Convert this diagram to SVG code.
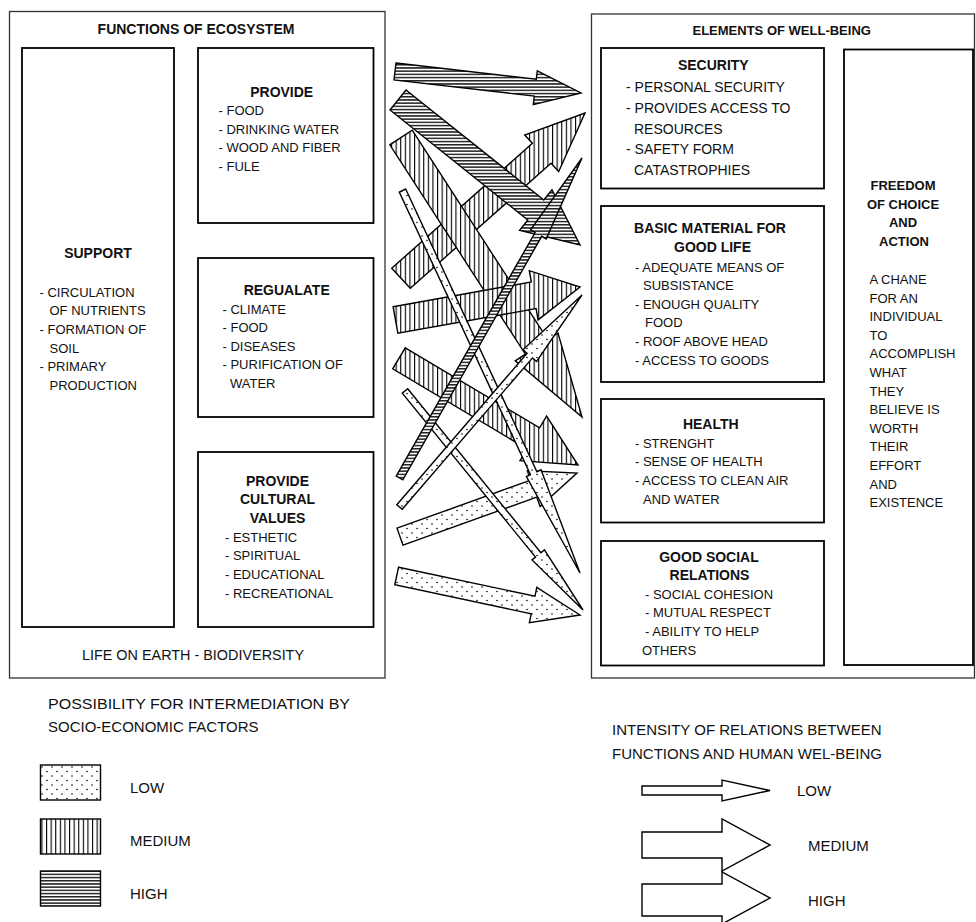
<svg xmlns="http://www.w3.org/2000/svg" width="976" height="922" viewBox="0 0 976 922">
  <defs>
    <!-- fill patterns for the possibility of intermediation -->
    <pattern id="pLow" patternUnits="userSpaceOnUse" width="10" height="9">
      <rect width="10" height="9" fill="#fff"/>
      <circle cx="2" cy="2" r="0.8" fill="#000"/>
      <circle cx="7" cy="6.5" r="0.8" fill="#000"/>
    </pattern>
    <pattern id="pMed" patternUnits="userSpaceOnUse" width="4.6" height="10">
      <rect width="4.6" height="10" fill="#fff"/>
      <rect x="0" y="0" width="1.1" height="10" fill="#000"/>
    </pattern>
    <pattern id="pHigh" patternUnits="userSpaceOnUse" width="10" height="3.2">
      <rect width="10" height="3.2" fill="#fff"/>
      <rect x="0" y="0" width="10" height="1.5" fill="#222"/>
    </pattern>
  </defs>
  <style>
    .box{fill:#fff;stroke:#000;stroke-width:1.8}
    .outer{fill:none;stroke:#333;stroke-width:1.3}
    .arr{stroke:#000;stroke-width:1.4;stroke-linejoin:miter}
    .low{fill:url(#pLow)}
    .med{fill:url(#pMed)}
    .high{fill:url(#pHigh)}
    .plain{fill:#fff}
    text{font-family:"Liberation Sans",Arial,sans-serif;fill:#111}
    .h{font-weight:bold;font-size:14px;text-anchor:middle}
    .h13{font-weight:bold;font-size:13px;text-anchor:middle}
    .t{font-size:13px}
    .t14{font-size:14px}
    .lg{font-size:15px}
  </style>

  <rect width="976" height="922" fill="#fff"/>

  <!-- left panel: functions of the ecosystem -->
  <g id="functions-ecosystem">
    <rect class="outer" x="9.5" y="11.5" width="375.5" height="666.5"/>
    <text class="h" x="196" y="34">FUNCTIONS OF ECOSYSTEM</text>
    <text x="193" y="660" font-size="14.4" text-anchor="middle">LIFE ON EARTH - BIODIVERSITY</text>
  </g>

  <g id="support">
    <rect class="box" x="22" y="48" width="152" height="579"/>
    <text class="h" x="98" y="258">SUPPORT</text>
    <text class="t" x="39.5" y="296.7">- CIRCULATION</text>
    <text class="t" x="49.5" y="315.3">OF NUTRIENTS</text>
    <text class="t" x="39.5" y="333.9">- FORMATION OF</text>
    <text class="t" x="49.5" y="352.5">SOIL</text>
    <text class="t" x="39.5" y="371.1">- PRIMARY</text>
    <text class="t" x="49.5" y="389.7">PRODUCTION</text>
  </g>

  <g id="provide">
    <rect class="box" x="198" y="48" width="175.5" height="175"/>
    <text class="h" x="281.7" y="97">PROVIDE</text>
    <text class="t" x="218.5" y="115">- FOOD</text>
    <text class="t" x="218.5" y="133.7">- DRINKING WATER</text>
    <text class="t" x="218.5" y="152.4">- WOOD AND FIBER</text>
    <text class="t" x="218.5" y="171.1">- FULE</text>
  </g>

  <g id="regulate">
    <rect class="box" x="198" y="258" width="175.5" height="159"/>
    <text class="h" x="286.7" y="295">REGUALATE</text>
    <text class="t" x="222.5" y="313.5">- CLIMATE</text>
    <text class="t" x="222.5" y="332">- FOOD</text>
    <text class="t" x="222.5" y="350.5">- DISEASES</text>
    <text class="t" x="222.5" y="369">- PURIFICATION OF</text>
    <text class="t" x="230" y="387.5">WATER</text>
  </g>

  <g id="cultural-values">
    <rect class="box" x="198" y="452" width="175.5" height="175"/>
    <text class="h" x="277.5" y="485.7">PROVIDE</text>
    <text class="h" x="277.5" y="504.3">CULTURAL</text>
    <text class="h" x="277.5" y="522.9">VALUES</text>
    <text class="t" x="225" y="541.7">- ESTHETIC</text>
    <text class="t" x="225" y="560.3">- SPIRITUAL</text>
    <text class="t" x="225" y="578.9">- EDUCATIONAL</text>
    <text class="t" x="225" y="597.5">- RECREATIONAL</text>
  </g>

  <!-- right panel: elements of well-being -->
  <g id="well-being">
    <rect class="outer" x="591.5" y="14" width="383" height="664"/>
    <text class="h13" x="781.7" y="35">ELEMENTS OF WELL-BEING</text>
  </g>

  <g id="security">
    <rect class="box" x="601" y="48" width="223" height="140.5"/>
    <text class="h" x="713.3" y="70" font-size="15">SECURITY</text>
    <text class="t14" x="626" y="92.3">- PERSONAL SECURITY</text>
    <text class="t14" x="626" y="112.9">- PROVIDES ACCESS TO</text>
    <text class="t14" x="634" y="133.5">RESOURCES</text>
    <text class="t14" x="626" y="154.1">- SAFETY FORM</text>
    <text class="t14" x="634" y="174.7">CATASTROPHIES</text>
  </g>

  <g id="basic-material">
    <rect class="box" x="601" y="206" width="223" height="176"/>
    <text class="h" x="710" y="233.3">BASIC MATERIAL FOR</text>
    <text class="h" x="712.5" y="252">GOOD LIFE</text>
    <text class="t" x="635" y="271.5">- ADEQUATE MEANS OF</text>
    <text class="t" x="643" y="290">SUBSISTANCE</text>
    <text class="t" x="635" y="308.7">- ENOUGH QUALITY</text>
    <text class="t" x="645" y="327.4">FOOD</text>
    <text class="t" x="635" y="346.1">- ROOF ABOVE HEAD</text>
    <text class="t" x="635" y="364.8">- ACCESS TO GOODS</text>
  </g>

  <g id="health">
    <rect class="box" x="601" y="399" width="223" height="123.5"/>
    <text class="h" x="710.8" y="429">HEALTH</text>
    <text class="t" x="635" y="447.7">- STRENGHT</text>
    <text class="t" x="635" y="466.4">- SENSE OF HEALTH</text>
    <text class="t" x="635" y="485.1">- ACCESS TO CLEAN AIR</text>
    <text class="t" x="643" y="503.8">AND WATER</text>
  </g>

  <g id="social-relations">
    <rect class="box" x="601" y="541" width="223" height="124.5"/>
    <text class="h" x="709" y="561.7">GOOD SOCIAL</text>
    <text class="h" x="709.5" y="580.2">RELATIONS</text>
    <text class="t" x="645" y="598.7">- SOCIAL COHESION</text>
    <text class="t" x="645" y="617.3">- MUTUAL RESPECT</text>
    <text class="t" x="645" y="635.9">- ABILITY TO HELP</text>
    <text class="t" x="642" y="654.5">OTHERS</text>
  </g>

  <g id="freedom">
    <rect class="box" x="844" y="49.5" width="129" height="615.5"/>
    <text class="h13" x="903" y="190">FREEDOM</text>
    <text class="h13" x="903" y="208.5">OF CHOICE</text>
    <text class="h13" x="903" y="227">AND</text>
    <text class="h13" x="904" y="245.5">ACTION</text>
    <text class="t" x="869.5" y="284">A CHANE</text>
    <text class="t" x="869.5" y="302.6">FOR AN</text>
    <text class="t" x="869.5" y="321.2">INDIVIDUAL</text>
    <text class="t" x="869.5" y="339.8">TO</text>
    <text class="t" x="869.5" y="358.4">ACCOMPLISH</text>
    <text class="t" x="869.5" y="377">WHAT</text>
    <text class="t" x="869.5" y="395.6">THEY</text>
    <text class="t" x="869.5" y="414.2">BELIEVE IS</text>
    <text class="t" x="869.5" y="432.8">WORTH</text>
    <text class="t" x="869.5" y="451.4">THEIR</text>
    <text class="t" x="869.5" y="470">EFFORT</text>
    <text class="t" x="869.5" y="488.6">AND</text>
    <text class="t" x="869.5" y="507.2">EXISTENCE</text>
  </g>

  <!-- relations from ecosystem functions to well-being -->
  <g id="connectors" class="arr">
    <polygon class="med" points="391.7,268.3 532.4,143.3 524.7,135 585,113 558.7,171.6 551,163.3 410.3,288.3"/>
    <polygon class="med" points="412.2,130.2 547.8,339.6 558,333 582,417 515.2,360.8 525.4,354.2 389.8,144.8"/>
    <polygon class="med" points="393.1,306.7 531.3,282 529.3,270.7 580,287 538.1,319.9 536.1,308.6 397.9,333.3"/>
    <polygon class="med" points="405.3,347.8 539.6,427.9 546.6,416.1 578,465 520,460.7 527,448.9 392.7,368.8"/>
    <polygon class="high" points="406,90 543.8,200 552,189.7 580,245 519.6,230.3 527.8,220 390,110"/>
    <polygon class="high" points="396,63 536.3,79.3 537.3,70.8 581,93 533.3,104.6 534.3,96.1 394,80"/>
    <polygon class="low" points="397,528.2 530.7,480.1 527.3,470.7 577,473 540.1,506.5 536.7,497.1 403,545.2"/>
    <polygon class="low" points="398.6,567.2 535,596.2 536.8,587.4 580,615 529.4,622.6 531.2,613.8 394.8,584.8"/>
    <polygon class="low" points="405.7,189 536.9,471.7 541,469.8 580,573 526.4,476.6 530.5,474.7 399.3,192"/>
    <polygon class="low" points="407.7,388.8 540.9,552.7 544.4,549.9 583,610 532,559.9 535.5,557.1 402.3,393.2"/>
    <polygon class="low" points="396.8,504.7 527.1,353.3 523,349.7 582,295 536.6,361.5 532.5,357.9 402.2,509.3"/>
    <polygon class="high" points="396.2,476.1 535.1,232.5 530.6,229.9 582,158 546.2,238.9 541.7,236.3 402.8,479.9"/>
  </g>

  <!-- legend: possibility for intermediation -->
  <g id="legend-intermediation">
    <text class="lg" x="48" y="709" textLength="302" lengthAdjust="spacingAndGlyphs">POSSIBILITY FOR INTERMEDIATION BY</text>
    <text class="lg" x="48" y="732">SOCIO-ECONOMIC FACTORS</text>
    <rect class="arr low" x="40.5" y="765" width="60" height="35"/>
    <rect class="arr med" x="40.5" y="819" width="60" height="35"/>
    <rect class="arr high" x="40.5" y="871" width="60" height="35"/>
    <text class="lg" x="130" y="793">LOW</text>
    <text class="lg" x="130" y="846">MEDIUM</text>
    <text class="lg" x="130" y="899">HIGH</text>
  </g>

  <!-- legend: intensity of relations -->
  <g id="legend-intensity">
    <text class="lg" x="612" y="735">INTENSITY OF RELATIONS BETWEEN</text>
    <text class="lg" x="612" y="759">FUNCTIONS AND HUMAN WEL-BEING</text>
    <polygon class="arr plain" points="642,786 722,786 722,780 770,790.5 722,801 722,795 642,795"/>
    <polygon class="arr plain" points="642,832 722,832 722,819 770,845 722,871 722,858 642,858"/>
    <polygon class="arr plain" points="642,884 722,884 722,872 770,898 722,924 722,916 642,916"/>
    <text class="lg" x="797" y="796">LOW</text>
    <text class="lg" x="808" y="851">MEDIUM</text>
    <text class="lg" x="808" y="906">HIGH</text>
  </g>
</svg>
